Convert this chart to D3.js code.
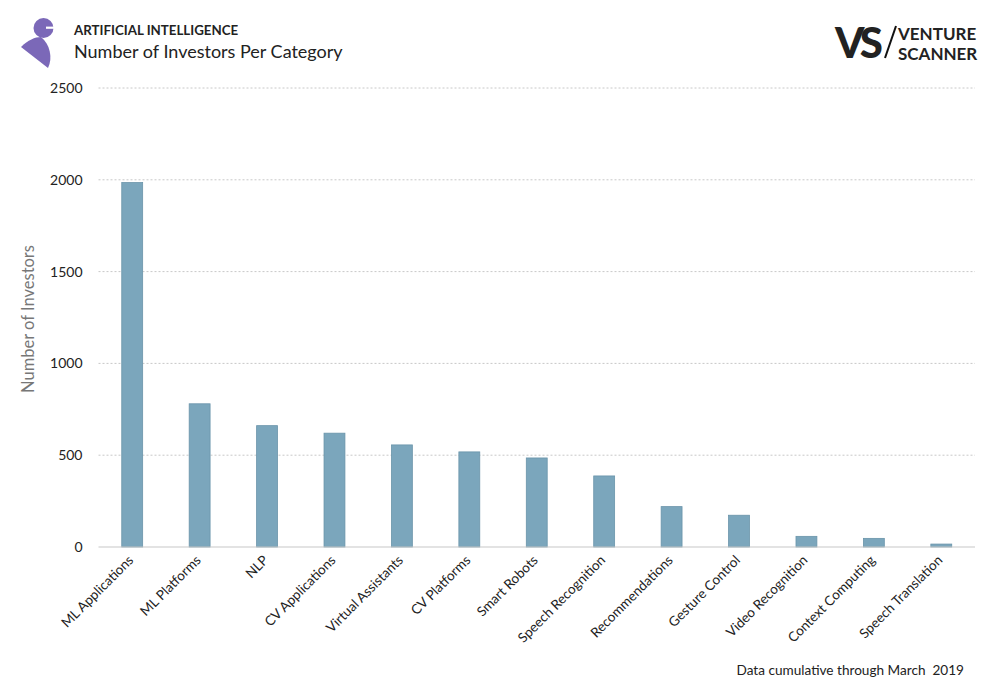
<!DOCTYPE html>
<html lang="en">
<head>
  <meta charset="UTF-8">
  <title>Number of Investors Per Category</title>
  <script src="https://d3js.org/d3.v7.min.js"></script>
  <style>
    body {
      margin: 0;
      background: #fff;
      font-family: Lato, "Open Sans", sans-serif;
    }
    svg text { fill: #222; }
  </style>
</head>
<body>

<svg id="chart" width="1000" height="692"></svg>

<script>
  const categories = [
    "ML Applications", "ML Platforms", "NLP", "CV Applications",
    "Virtual Assistants", "CV Platforms", "Smart Robots", "Speech Recognition",
    "Recommendations", "Gesture Control", "Video Recognition",
    "Context Computing", "Speech Translation"
  ];
  const investors = [1985, 780, 661, 620, 556, 518, 485, 387, 220, 173, 58, 47, 16];
  const yTicks = [0, 500, 1000, 1500, 2000, 2500];

  const svg = d3.select("#chart");
  const margin = { top: 88, right: 25, bottom: 145, left: 98.5 };
  const width = 1000;
  const height = 692;

  // bars sit in the middle of equal steps
  const x = d3.scaleBand()
    .domain(categories)
    .range([margin.left, width - margin.right])
    .paddingInner(0.69)
    .paddingOuter(0.345);

  const y = d3.scaleLinear()
    .domain([0, 2500])
    .range([height - margin.bottom, margin.top]);

  // gridlines
  svg.append("g")
    .selectAll("line")
    .data(yTicks.filter(d => d > 0))
    .enter()
    .append("line")
    .attr("x1", margin.left)
    .attr("x2", width - margin.right)
    .attr("y1", d => y(d))
    .attr("y2", d => y(d))
    .attr("stroke", "#c8c8c8")
    .attr("stroke-dasharray", "2,2");

  // y axis labels
  const yAxis = svg.append("g")
    .attr("transform", `translate(${margin.left - 16},0)`)
    .call(d3.axisLeft(y).tickValues(yTicks).tickFormat(d3.format("d")).tickSize(0).tickPadding(0));
  yAxis.select(".domain").remove();
  yAxis.selectAll("text")
    .attr("font-family", "Lato, sans-serif")
    .attr("font-size", 14)
    .attr("fill", "#222");

  // bars
  svg.append("g")
    .selectAll("rect")
    .data(categories.map((c, i) => ({ c, v: investors[i] })))
    .enter()
    .append("rect")
    .attr("x", d => x(d.c))
    .attr("width", x.bandwidth())
    .attr("y", d => y(d.v))
    .attr("height", d => y(0) - y(d.v))
    .attr("fill", "#7ba6bc")
    .attr("stroke", "#6a94aa")
    .attr("stroke-width", 0.8);

  // baseline
  svg.append("line")
    .attr("x1", margin.left)
    .attr("x2", width - margin.right)
    .attr("y1", y(0))
    .attr("y2", y(0))
    .attr("stroke", "#c8c8c8")
    .attr("stroke-width", 1.2);

  // x labels
  svg.append("g")
    .selectAll("text")
    .data(categories)
    .enter()
    .append("text")
    .attr("transform", d => `translate(${x(d) + x.bandwidth() / 2 + 2},${y(0) + 14}) rotate(-45)`)
    .attr("text-anchor", "end")
    .attr("font-size", 13.5)
    .text(d => d);

  // y title
  svg.append("text")
    .attr("transform", "translate(34,319) rotate(-90)")
    .attr("text-anchor", "middle")
    .attr("font-size", 16.5)
    .style("fill", "#777")
    .text("Number of Investors");

  // header
  svg.append("text")
    .attr("x", 74)
    .attr("y", 35)
    .attr("font-size", 13.3)
    .attr("font-weight", "bold")
    .text("ARTIFICIAL INTELLIGENCE");

  svg.append("text")
    .attr("x", 74)
    .attr("y", 58)
    .attr("font-size", 18)
    .text("Number of Investors Per Category");

  // left logo
  const logo = svg.append("g").attr("fill", "#7b68b8");
  logo.append("circle").attr("cx", 43.5).attr("cy", 28).attr("r", 10);
  logo.append("rect").attr("x", 46).attr("y", 26.6).attr("width", 8).attr("height", 2.2).attr("fill", "#fff");
  logo.append("path")
    .attr("d", "M21,47 C28,40 35,37 41,37 C50,44 53,58 48,68 Z");

  // right logo
  svg.append("text")
    .attr("x", 835)
    .attr("y", 58)
    .attr("font-size", 42)
    .attr("font-weight", 900)
    .attr("letter-spacing", -4)
    .text("VS");
  svg.append("line")
    .attr("x1", 885).attr("y1", 58)
    .attr("x2", 896).attr("y2", 26)
    .attr("stroke", "#111").attr("stroke-width", 2);
  svg.append("text")
    .attr("x", 898)
    .attr("y", 40)
    .attr("font-size", 17)
    .attr("font-weight", "bold")
    .text("VENTURE");
  svg.append("text")
    .attr("x", 898)
    .attr("y", 60)
    .attr("font-size", 17)
    .attr("font-weight", "bold")
    .text("SCANNER");

  // footer
  svg.append("text")
    .attr("x", 964)
    .attr("y", 675)
    .attr("text-anchor", "end")
    .attr("font-size", 13.6)
    .style("white-space", "pre")
    .text("Data cumulative through March  2019");
</script>

</body>
</html>
